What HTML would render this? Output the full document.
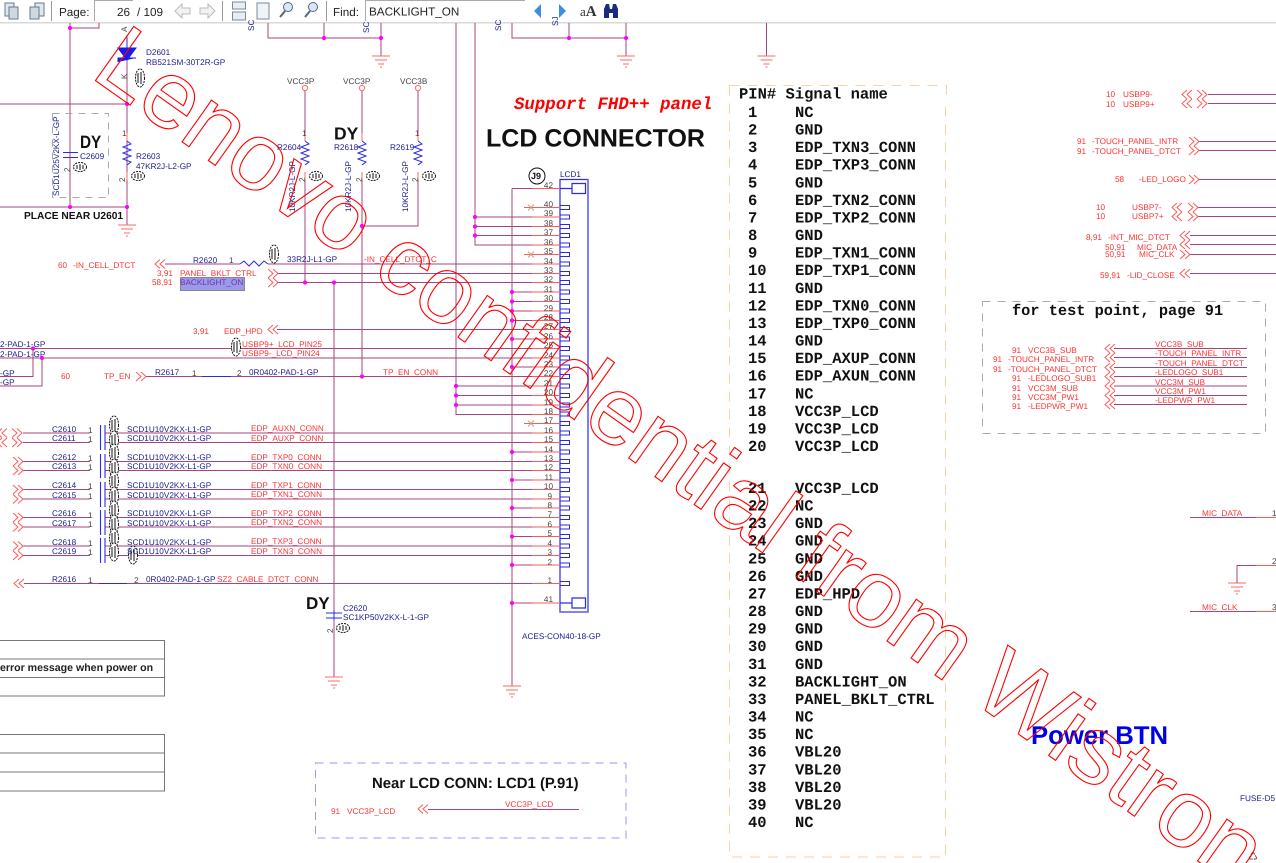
<!DOCTYPE html>
<html><head><meta charset="utf-8"><title>LCD Connector schematic</title>
<style>
html,body{margin:0;padding:0;background:#fff;width:1276px;height:863px;overflow:hidden}
svg{display:block;position:absolute;left:0;top:0}
text{font-family:"Liberation Sans",sans-serif;font-size:8.2px;text-rendering:geometricPrecision}
.b{fill:#1c1c90}.r{fill:#f33}.n{fill:#444}
.w{fill:none;stroke:#a5457d;stroke-width:1}
.t{fill:none;stroke:#ff5a5a;stroke-width:1}
.bl{fill:none;stroke:#2a2ae8;stroke-width:1.2}
.m,.m text{font-family:"Liberation Mono",monospace;font-weight:bold;font-size:15.5px;fill:#111}
text.tb{font-size:11.7px;fill:#222}
text.wm{font-family:"Liberation Sans",sans-serif;font-size:96.5px;fill:none;stroke:#f00;stroke-width:1.1}
.c{font-weight:bold;fill:#111}
</style></head><body>
<svg width="1276" height="863" viewBox="0 0 1276 863" xmlns="http://www.w3.org/2000/svg">
<defs>
<path id="cl" d="M5 -4.5L0 0L5 4.5M10 -4.5L5 0L10 4.5" fill="none" stroke="#ff5a5a"/>
<path id="cr" d="M0 -4.5L5 0L0 4.5M5 -4.5L10 0L5 4.5" fill="none" stroke="#ff5a5a"/>
<path id="g" d="M-9 0H9M-6 4H6M-3 8H3M-1 11H1" fill="none" stroke="#ff6a6a"/>
<circle id="j" r="2.1" fill="#f0f"/>
<g id="s"><ellipse rx="6.5" ry="4.5" fill="#fff" stroke="#111" stroke-dasharray="2 1"/><path d="M-3 -2V2M0 -3V3M3 -2V2" stroke="#111" fill="none"/></g>
<g id="v"><ellipse rx="4.5" ry="9" fill="#fff" stroke="#111" stroke-dasharray="2 1"/><path d="M-2 -5V5M1 -6V6" stroke="#111" fill="none"/></g>
<path id="z" d="M0 0l4 3l-8 3l8 3l-8 3l8 3l-8 3l8 3l-4 3" fill="none" stroke="#2a2ae8"/>
</defs>

<!-- toolbar -->
<rect x="0" y="22" width="1276" height="1.5" fill="#d9d9d9"/>
<g fill="#dfe8f0" stroke="#6a7a8a">
<rect x="5" y="3" width="9" height="13"/><rect x="9" y="7" width="9" height="12" fill="#cfd8e0"/>
<rect x="35" y="3" width="9" height="13"/><rect x="30" y="7" width="9" height="12" fill="#cfd8e0"/>
</g>
<path d="M51.5 1V21M222.5 1V21M326.5 1V21" stroke="#999"/>
<text class="tb" x="59" y="16">Page:</text>
<path d="M94.5 21V0.5H133" fill="none" stroke="#aaa"/>
<text class="tb" x="117" y="16">26</text><text class="tb" x="137" y="16">/ 109</text>
<path d="M175 11l7-7v4h8v6h-8v4zM215 11l-7-7v4h-8v6h8v4z" fill="#f2f2f2" stroke="#bbb"/>
<path d="M232.5 2h13v7h-13zM232.5 12h13v8h-13z" fill="#e8eef4" stroke="#7a8a9a"/>
<rect x="257" y="3" width="12" height="16" fill="#eef4f8" stroke="#7a8a9a"/>
<circle cx="288" cy="7" r="4.5" fill="#d8e8f8" stroke="#567"/><path d="M285 11l-5 6" stroke="#567" stroke-width="2"/>
<circle cx="313" cy="7" r="4.5" fill="#d8e8f8" stroke="#567"/><path d="M310 11l-5 6" stroke="#567" stroke-width="2"/>
<text class="tb" x="333" y="16">Find:</text>
<path d="M365.5 21V0.5H525" fill="none" stroke="#aaa"/>
<text class="tb" x="369" y="15.5">BACKLIGHT_ON</text>
<path d="M534 11l7-7v14z" fill="#3d8ee0"/><path d="M566 11l-7-7v14z" fill="#3d8ee0"/>
<text x="580" y="16" style="font-size:13px;font-family:'Liberation Serif',serif;fill:#333">a<tspan style="font-weight:bold;font-size:15px">A</tspan></text>
<path d="M604 18v-9l2-5h3l1 5h2l1-5h3l2 5v9h-5v-5h-4v5z" fill="#1a2a80"/>

<!-- top-left wires -->
<g class="w">
<path d="M70 23V207M70 28H99V23M0 104H127M0 207H127M127 35V225"/>
<path d="M268 23V38H381M324 23V38M381 23V56"/>
<path d="M512 23V38H626M569 23V38M626 23V56M766.5 23V56"/>
<path d="M456 23V414.5H532M475 23V245H532"/>
<path d="M305 91V133M305 173V283M362 91V133M362 173V376.5M418 91V133M418 173V226H362"/>
<path d="M334 283V612M334 620V677"/>
<path d="M512 188.5V686"/>
</g>
<g fill="none" stroke="#ff6a6a"><circle cx="305" cy="88" r="2.6"/><circle cx="362" cy="88" r="2.6"/><circle cx="418" cy="88" r="2.6"/>
<path d="M305 133V141M305 172V180M362 133V141M362 172V180M418 133V141M418 172V180M127 133V141M127 172V180"/></g>
<use href="#z" x="127" y="141"/><use href="#z" x="305" y="141"/><use href="#z" x="362" y="141"/><use href="#z" x="418" y="141"/>
<path d="M127 38V60" stroke="#2a2ae8"/><path d="M118 48H136L127 60ZM118 62V58H136" fill="#1a1af0" stroke="#1a1af0"/>
<path d="M63 152.5H78M63 157.5H78" stroke="#2a2ae8"/>
<path d="M326 613H342M326 618H342M334 610V620" stroke="#2a2ae8" fill="none"/>
<rect x="52.5" y="113.5" width="56" height="84" fill="none" stroke="#aaa" stroke-dasharray="7 6"/>
<use href="#g" x="127" y="225"/><use href="#g" x="381" y="56"/><use href="#g" x="626" y="56"/><use href="#g" x="766.5" y="56"/><use href="#g" x="334" y="677"/><use href="#g" x="512" y="686"/><use href="#g" x="1237" y="583"/>

<text class="b" transform="translate(254,31) rotate(-90)">SC</text>
<text class="b" transform="translate(369,33) rotate(-90)">SC</text>
<text class="b" transform="translate(501,31) rotate(-90)">SC</text>
<text class="b" transform="translate(558,26) rotate(-90)">SJ</text>
<text class="n" transform="translate(127,32) rotate(-90)">A</text>
<text class="n" transform="translate(127,79) rotate(-90)">K</text>
<text class="b" x="146" y="55">D2601</text><text class="b" x="146" y="65">RB521SM-30T2R-GP</text>
<use href="#v" x="140" y="78"/>
<text class="n" x="122" y="136">1</text><text class="n" transform="translate(125,182) rotate(-90)">2</text>
<text class="b" x="136" y="159">R2603</text><text class="b" x="136" y="169">47KR2J-L2-GP</text>
<use href="#s" x="138" y="176"/>
<text class="b" transform="translate(59,196) rotate(-90)">SCD1U25V2KX-L-GP</text>
<text class="b" x="80" y="159">C2609</text><use href="#s" x="80" y="167"/>
<text class="n" transform="translate(70,172) rotate(-90)">2</text>
<text transform="translate(80,148) scale(.85,1)" style="font-size:18px;font-weight:bold;fill:#111">DY</text>
<text x="24" y="219" style="font-size:10.2px;font-weight:bold;fill:#111">PLACE NEAR U2601</text>

<text class="n" x="287" y="84">VCC3P</text><text class="n" x="343" y="84">VCC3P</text><text class="n" x="400" y="84">VCC3B</text>
<text class="n" x="302" y="136">1</text><text class="n" x="415" y="136">1</text>
<text class="b" x="277" y="150">R2604</text><text class="b" x="334" y="150">R2618</text><text class="b" x="390" y="150">R2619</text>
<text class="b" transform="translate(295,212) rotate(-90)">10KR2J-L-GP</text>
<text class="b" transform="translate(351,212) rotate(-90)">10KR2J-L-GP</text>
<text class="b" transform="translate(408,212) rotate(-90)">10KR2J-L-GP</text>
<text class="n" transform="translate(305,182) rotate(-90)">2</text><text class="n" transform="translate(362,182) rotate(-90)">2</text><text class="n" transform="translate(418,182) rotate(-90)">2</text>
<use href="#s" x="316" y="176"/><use href="#s" x="373" y="176"/><use href="#s" x="429" y="176"/>
<text transform="translate(334,139.5)" style="font-size:17.5px;font-weight:bold;fill:#111">DY</text>

<text x="514" y="109" style="font-family:'Liberation Mono',monospace;font-weight:bold;font-style:italic;font-size:17.4px;fill:#f00">Support FHD++ panel</text>
<text x="486" y="146.5" style="font-size:25px;font-weight:bold;fill:#111">LCD CONNECTOR</text>

<!-- connector -->
<circle cx="537" cy="176" r="8" fill="#fff" stroke="#111"/><text x="531" y="179" style="font-size:9px;font-weight:bold;fill:#111">J9</text>
<text x="560" y="177" fill="#1c1c90">LCD1</text>
<path d="M560 179.5V612H588V179.5Z" fill="none" stroke="#2a2ae8" stroke-width="1.2"/>
<path d="M588 179V612M560 612H588" stroke="#6a6af5" stroke-width="1.6"/>
<path class="bl" d="M572 183.5h13.5v10h-13.5zM572 598h13.5v10h-13.5zM560 188.5h12M560 603h12"/>
<g class="bl" style="stroke-width:1">
<path d="M560 205.5h9.5v4h-9.5zM560 215h9.5v4h-9.5zM560 224.5h9.5v4h-9.5zM560 233.5h9.5v4h-9.5zM560 243h9.5v4h-9.5zM560 252.5h9.5v4h-9.5zM560 262h9.5v4h-9.5zM560 271.5h9.5v4h-9.5zM560 280.5h9.5v4h-9.5zM560 290h9.5v4h-9.5zM560 299.5h9.5v4h-9.5zM560 309h9.5v4h-9.5zM560 318.5h9.5v4h-9.5zM560 327.5h9.5v4h-9.5zM560 337h9.5v4h-9.5zM560 346.5h9.5v4h-9.5zM560 356h9.5v4h-9.5zM560 365h9.5v4h-9.5zM560 374.5h9.5v4h-9.5zM560 384h9.5v4h-9.5zM560 393.5h9.5v4h-9.5zM560 403h9.5v4h-9.5zM560 412h9.5v4h-9.5zM560 421.5h9.5v4h-9.5zM560 431h9.5v4h-9.5zM560 440.5h9.5v4h-9.5zM560 450h9.5v4h-9.5zM560 459.5h9.5v4h-9.5zM560 468.5h9.5v4h-9.5zM560 478h9.5v4h-9.5zM560 487.5h9.5v4h-9.5zM560 497h9.5v4h-9.5zM560 506h9.5v4h-9.5zM560 515.5h9.5v4h-9.5zM560 525h9.5v4h-9.5zM560 534.5h9.5v4h-9.5zM560 544h9.5v4h-9.5zM560 553.5h9.5v4h-9.5zM560 563h9.5v4h-9.5zM560 581.5h9.5v4h-9.5z"/>
</g>
<!-- pin wires, purple part -->
<path class="w" d="M512 188.5H532M475 217H532M475 226.5H532M475 235.5H532M268 264H532M277 273.5H532M277 282.5H532M512 292H532M512 301.5H532M512 311H532M512 320.5H532M277 329.5H532M512 339H532M0 348.5H532M0 358H532M512 367H532M146 376.5H532M456 386H532M456 395.5H532M456 405H532M105 433H532M105 442.5H532M512 452H532M105 461.5H532M105 470.5H532M512 480H532M105 489.5H532M105 499H532M512 508H532M105 517.5H532M105 527H532M512 536.5H532M105 546H532M105 555.5H532M512 565H532M24 583.5H532M512 603H532"/>
<path class="w" d="M23 433H90M23 442.5H90M23 461.5H90M23 470.5H90M23 489.5H90M23 499H90M23 517.5H90M23 527H90M23 546H90M23 555.5H90"/>
<path class="t" d="M532 188.5H560M524 207.5H560M532 217H560M532 226.5H560M532 235.5H560M532 245H560M524 254.5H560M532 264H560M532 273.5H560M532 282.5H560M532 292H560M532 301.5H560M532 311H560M532 320.5H560M532 329.5H560M532 339H560M532 348.5H560M532 358H560M532 367H560M532 376.5H560M532 386H560M532 395.5H560M532 405H560M532 414.5H560M524 423.5H560M532 433H560M532 442.5H560M532 452H560M532 461.5H560M532 470.5H560M532 480H560M532 489.5H560M532 499H560M532 508H560M532 517.5H560M532 527H560M532 536.5H560M532 546H560M532 555.5H560M532 565H560M532 583.5H560M532 603H560"/>
<path d="M528 204.5l6 6m0-6l-6 6M528 251.5l6 6m0-6l-6 6M528 420.5l6 6m0-6l-6 6" stroke="#c8a080" fill="none"/>
<!-- pin numbers -->
<g class="n" text-anchor="end">
<text x="553" y="188">42</text><text x="553" y="207">40</text><text x="553" y="216">39</text><text x="553" y="226">38</text><text x="553" y="235">37</text><text x="553" y="245">36</text><text x="553" y="254">35</text><text x="553" y="264">34</text><text x="553" y="273">33</text><text x="553" y="282">32</text><text x="553" y="292">31</text><text x="553" y="301">30</text><text x="553" y="311">29</text><text x="553" y="320">28</text><text x="553" y="329">27</text><text x="553" y="339">26</text><text x="553" y="348">25</text><text x="553" y="358">24</text><text x="553" y="367">23</text><text x="553" y="376">22</text><text x="553" y="386">21</text><text x="553" y="395">20</text><text x="553" y="405">19</text><text x="553" y="414">18</text><text x="553" y="423">17</text><text x="553" y="433">16</text><text x="553" y="442">15</text><text x="553" y="452">14</text><text x="553" y="461">13</text><text x="553" y="470">12</text><text x="553" y="480">11</text><text x="553" y="489">10</text><text x="552" y="499">9</text><text x="552" y="508">8</text><text x="552" y="517">7</text><text x="552" y="527">6</text><text x="552" y="536">5</text><text x="552" y="546">4</text><text x="552" y="555">3</text><text x="552" y="565">2</text><text x="552" y="583">1</text><text x="553" y="602">41</text>
</g>
<!-- junctions -->
<g fill="#f0f">
<use href="#j" x="70" y="28"/><use href="#j" x="70" y="207"/><use href="#j" x="127" y="207"/><use href="#j" x="127" y="104"/>
<use href="#j" x="324" y="38"/><use href="#j" x="381" y="38"/><use href="#j" x="569" y="38"/><use href="#j" x="626" y="38"/>
<use href="#j" x="362" y="226"/><use href="#j" x="305" y="282.5"/><use href="#j" x="334" y="282.5"/><use href="#j" x="362" y="376.5"/>
<use href="#j" x="475" y="217"/><use href="#j" x="475" y="226.5"/><use href="#j" x="475" y="235.5"/>
<use href="#j" x="456" y="386"/><use href="#j" x="456" y="395.5"/><use href="#j" x="456" y="405"/>
<use href="#j" x="512" y="292"/><use href="#j" x="512" y="301.5"/><use href="#j" x="512" y="311"/><use href="#j" x="512" y="320.5"/><use href="#j" x="512" y="339"/><use href="#j" x="512" y="367"/>
<use href="#j" x="512" y="452"/><use href="#j" x="512" y="480"/><use href="#j" x="512" y="508"/><use href="#j" x="512" y="536.5"/><use href="#j" x="512" y="565"/><use href="#j" x="512" y="603"/>
<use href="#j" x="33" y="348.5"/><use href="#j" x="42" y="358"/>
</g>
<text class="b" x="522" y="639">ACES-CON40-18-GP</text>

<!-- R2620 / signals -->
<use href="#cl" x="155" y="264"/><path class="w" d="M165 264H240"/>
<path d="M240 264l4-3l5 5l5-5l5 5l5-5l4 3" fill="none" stroke="#2a2ae8"/>
<use href="#cr" x="268" y="273.5"/><use href="#cr" x="268" y="282.5"/>
<use href="#cl" x="268" y="329.5"/>
<text class="r" x="58" y="268">60</text><text class="r" x="73" y="268">-IN_CELL_DTCT</text>
<text class="b" x="193" y="263">R2620</text><text class="n" x="229" y="263">1</text>
<use href="#v" x="274" y="254"/>
<text class="b" x="287" y="262">33R2J-L1-GP</text>
<text class="r" x="364" y="262">-IN_CELL_DTCT_C</text>
<text class="r" x="157" y="276">3,91</text><text class="r" x="180" y="276">PANEL_BKLT_CTRL</text>
<text class="r" x="152" y="285">58,91</text>
<rect x="180.5" y="277.5" width="64" height="13" fill="#9a9aec" stroke="#888"/>
<text x="180" y="285" fill="#7a2ea0">BACKLIGHT_ON</text>
<text class="r" x="193" y="334">3,91</text><text class="r" x="224" y="334">EDP_HPD</text>
<text class="b" x="0" y="347">2-PAD-1-GP</text><text class="b" x="0" y="357">2-PAD-1-GP</text>
<text class="b" x="0" y="376">-GP</text><text class="b" x="0" y="385">-GP</text>
<path class="w" d="M33 348.5V376.5H0M42 358V386H0"/>
<use href="#v" x="236" y="347"/>
<text class="r" x="242" y="347">USBP9+_LCD_PIN25</text><text class="r" x="242" y="356">USBP9-_LCD_PIN24</text>
<text class="r" x="61" y="379">60</text><text class="r" x="104" y="379">TP_EN</text>
<use href="#cr" x="136" y="376.5"/>
<text class="b" x="155" y="375">R2617</text><text class="n" x="192" y="376">1</text>
<path d="M202 376.5H231" stroke="#fff" stroke-width="1.4"/><path d="M202 376.5H231" stroke="#2a2ae8"/>
<text class="n" x="237" y="376">2</text><text class="b" x="249" y="375">0R0402-PAD-1-GP</text>
<text class="r" x="383" y="375">TP_EN_CONN</text>

<!-- caps -->
<path d="M100.5 425V450M105 425V450M100.5 454V478M105 454V478M100.5 482V507M105 482V507M100.5 510V535M105 510V535M100.5 538V563M105 538V563" stroke="#2a2ae8" fill="none" stroke-width="1.1"/>
<use href="#cl" x="-3" y="433"/><use href="#cl" x="-3" y="442.5"/>
<use href="#cr" x="12" y="433"/><use href="#cr" x="12" y="442.5"/><use href="#cr" x="13" y="461.5"/><use href="#cr" x="13" y="470.5"/><use href="#cr" x="13" y="489.5"/><use href="#cr" x="13" y="499"/><use href="#cr" x="13" y="517.5"/><use href="#cr" x="13" y="527"/><use href="#cr" x="13" y="546"/><use href="#cr" x="13" y="555.5"/>
<use href="#cl" x="14" y="583.5"/>
<g>
<use href="#v" x="114" y="425"/><use href="#v" x="114" y="440"/><use href="#v" x="114" y="453"/><use href="#v" x="114" y="468"/><use href="#v" x="114" y="481"/><use href="#v" x="114" y="496"/><use href="#v" x="114" y="510"/><use href="#v" x="114" y="524"/><use href="#v" x="114" y="538"/><use href="#v" x="114" y="552"/><use href="#v" x="133" y="555"/>
</g>
<g class="b">
<text x="52" y="432">C2610</text><text x="52" y="441">C2611</text><text x="52" y="460">C2612</text><text x="52" y="469">C2613</text><text x="52" y="488">C2614</text><text x="52" y="498">C2615</text><text x="52" y="516">C2616</text><text x="52" y="526">C2617</text><text x="52" y="545">C2618</text><text x="52" y="554">C2619</text>
<text x="127" y="432">SCD1U10V2KX-L1-GP</text><text x="127" y="441">SCD1U10V2KX-L1-GP</text><text x="127" y="460">SCD1U10V2KX-L1-GP</text><text x="127" y="469">SCD1U10V2KX-L1-GP</text><text x="127" y="488">SCD1U10V2KX-L1-GP</text><text x="127" y="498">SCD1U10V2KX-L1-GP</text><text x="127" y="516">SCD1U10V2KX-L1-GP</text><text x="127" y="526">SCD1U10V2KX-L1-GP</text><text x="127" y="545">SCD1U10V2KX-L1-GP</text><text x="127" y="554">SCD1U10V2KX-L1-GP</text>
<text x="52" y="582">R2616</text><text x="146" y="582">0R0402-PAD-1-GP</text>
<text x="343" y="611">C2620</text><text x="343" y="620">SC1KP50V2KX-L-1-GP</text>
</g>
<g class="n">
<text x="88" y="433">1</text><text x="88" y="442">1</text><text x="88" y="461">1</text><text x="88" y="470">1</text><text x="88" y="489">1</text><text x="88" y="499">1</text><text x="88" y="518">1</text><text x="88" y="527">1</text><text x="88" y="546">1</text><text x="88" y="555">1</text>
<text x="88" y="583">1</text><text x="134" y="583">2</text>
<text transform="translate(333,633) rotate(-90)">2</text>
</g>
<path d="M99 583.5H127" stroke="#fff" stroke-width="1.4"/><path d="M99 583.5H127" stroke="#2a2ae8"/>
<use href="#s" x="343" y="628"/>
<g class="r">
<text x="251" y="431">EDP_AUXN_CONN</text><text x="251" y="441">EDP_AUXP_CONN</text><text x="251" y="460">EDP_TXP0_CONN</text><text x="251" y="469">EDP_TXN0_CONN</text><text x="251" y="488">EDP_TXP1_CONN</text><text x="251" y="497">EDP_TXN1_CONN</text><text x="251" y="516">EDP_TXP2_CONN</text><text x="251" y="525">EDP_TXN2_CONN</text><text x="251" y="544">EDP_TXP3_CONN</text><text x="251" y="554">EDP_TXN3_CONN</text>
<text x="217" y="582">SZ2_CABLE_DTCT_CONN</text>
</g>
<text x="306" y="609" style="font-size:17px;font-weight:bold;fill:#111">DY</text>

<!-- left tables -->
<g fill="none" stroke="#777" stroke-width="1">
<path d="M0 640.5H164.5V696H0M0 659H164.5M0 677.5H164.5"/>
<path d="M0 734.5H164.5V791H0M0 753H164.5M0 772H164.5"/>
</g>
<text x="0" y="671" style="font-size:10.6px;font-weight:bold;fill:#222">error message when power on</text>

<!-- near LCD -->
<rect x="315.5" y="763" width="310.5" height="75" fill="none" stroke="#9a9af0" stroke-dasharray="8 6"/>
<text x="372" y="788" style="font-size:14.9px;font-weight:bold;fill:#111">Near LCD CONN: LCD1 (P.91)</text>
<text class="r" x="331" y="814">91</text><text class="r" x="347" y="814">VCC3P_LCD</text>
<use href="#cl" x="418" y="809"/><path class="w" d="M428 809.5H579"/>
<text class="r" x="505" y="807">VCC3P_LCD</text>

<!-- pin table -->
<path d="M729.5 85.5H946.5V100" fill="none" stroke="#fbcfa8" stroke-dasharray="10 8"/>
<path d="M729.5 85.5V857H945.5V100" fill="none" stroke="#fbcfa8" stroke-dasharray="10 8"/>
<text class="m" x="739" y="98.5">PIN# Signal name</text>
<g class="m" transform="translate(0,-1)">
<text x="748" y="118">1</text><text x="795" y="118">NC</text>
<text x="748" y="135.6">2</text><text x="795" y="135.6">GND</text>
<text x="748" y="153.2">3</text><text x="795" y="153.2">EDP_TXN3_CONN</text>
<text x="748" y="170.7">4</text><text x="795" y="170.7">EDP_TXP3_CONN</text>
<text x="748" y="188.3">5</text><text x="795" y="188.3">GND</text>
<text x="748" y="205.9">6</text><text x="795" y="205.9">EDP_TXN2_CONN</text>
<text x="748" y="223.5">7</text><text x="795" y="223.5">EDP_TXP2_CONN</text>
<text x="748" y="241">8</text><text x="795" y="241">GND</text>
<text x="748" y="258.6">9</text><text x="795" y="258.6">EDP_TXN1_CONN</text>
<text x="748" y="276.2">10</text><text x="795" y="276.2">EDP_TXP1_CONN</text>
<text x="748" y="293.8">11</text><text x="795" y="293.8">GND</text>
<text x="748" y="311.4">12</text><text x="795" y="311.4">EDP_TXN0_CONN</text>
<text x="748" y="329">13</text><text x="795" y="329">EDP_TXP0_CONN</text>
<text x="748" y="346.5">14</text><text x="795" y="346.5">GND</text>
<text x="748" y="364.1">15</text><text x="795" y="364.1">EDP_AXUP_CONN</text>
<text x="748" y="381.7">16</text><text x="795" y="381.7">EDP_AXUN_CONN</text>
<text x="748" y="399.3">17</text><text x="795" y="399.3">NC</text>
<text x="748" y="416.9">18</text><text x="795" y="416.9">VCC3P_LCD</text>
<text x="748" y="434.4">19</text><text x="795" y="434.4">VCC3P_LCD</text>
<text x="748" y="452">20</text><text x="795" y="452">VCC3P_LCD</text>
<text x="748" y="494">21</text><text x="795" y="494">VCC3P_LCD</text>
<text x="748" y="511.6">22</text><text x="795" y="511.6">NC</text>
<text x="748" y="529.2">23</text><text x="795" y="529.2">GND</text>
<text x="748" y="546.7">24</text><text x="795" y="546.7">GND</text>
<text x="748" y="564.3">25</text><text x="795" y="564.3">GND</text>
<text x="748" y="581.9">26</text><text x="795" y="581.9">GND</text>
<text x="748" y="599.5">27</text><text x="795" y="599.5">EDP_HPD</text>
<text x="748" y="617">28</text><text x="795" y="617">GND</text>
<text x="748" y="634.6">29</text><text x="795" y="634.6">GND</text>
<text x="748" y="652.2">30</text><text x="795" y="652.2">GND</text>
<text x="748" y="669.8">31</text><text x="795" y="669.8">GND</text>
<text x="748" y="687.4">32</text><text x="795" y="687.4">BACKLIGHT_ON</text>
<text x="748" y="705">33</text><text x="795" y="705">PANEL_BKLT_CTRL</text>
<text x="748" y="722.5">34</text><text x="795" y="722.5">NC</text>
<text x="748" y="740.1">35</text><text x="795" y="740.1">NC</text>
<text x="748" y="757.7">36</text><text x="795" y="757.7">VBL20</text>
<text x="748" y="775.3">37</text><text x="795" y="775.3">VBL20</text>
<text x="748" y="792.9">38</text><text x="795" y="792.9">VBL20</text>
<text x="748" y="810.4">39</text><text x="795" y="810.4">VBL20</text>
<text x="748" y="828">40</text><text x="795" y="828">NC</text>
</g>

<!-- right side signals -->
<path class="w" d="M1208 94.5H1276M1208 103.5H1276M1199 141.5H1276M1199 150.5H1276M1199 179.5H1276M1198 207.5H1276M1198 216.5H1276M1190 235.5H1276M1190 244.5H1276M1190 254.5H1276M1190 273.5H1276"/>
<use href="#cl" x="1182" y="94.5"/><use href="#cr" x="1197" y="94.5"/><use href="#cl" x="1182" y="103.5"/><use href="#cr" x="1197" y="103.5"/>
<use href="#cr" x="1189" y="141.5"/><use href="#cr" x="1189" y="150.5"/><use href="#cr" x="1189" y="179.5"/>
<use href="#cl" x="1172" y="207.5"/><use href="#cr" x="1188" y="207.5"/><use href="#cl" x="1172" y="216.5"/><use href="#cr" x="1188" y="216.5"/>
<use href="#cl" x="1180" y="235.5"/><use href="#cl" x="1180" y="244.5"/><use href="#cr" x="1180" y="254.5"/><use href="#cl" x="1180" y="273.5"/>
<g class="r">
<text x="1106" y="97">10</text><text x="1123" y="97">USBP9-</text><text x="1106" y="107">10</text><text x="1123" y="107">USBP9+</text>
<text x="1077" y="144">91</text><text x="1092" y="144">-TOUCH_PANEL_INTR</text><text x="1077" y="154">91</text><text x="1092" y="154">-TOUCH_PANEL_DTCT</text>
<text x="1115" y="182">58</text><text x="1139" y="182">-LED_LOGO</text>
<text x="1096" y="210">10</text><text x="1132" y="210">USBP7-</text><text x="1096" y="219">10</text><text x="1132" y="219">USBP7+</text>
<text x="1086" y="240">8,91</text><text x="1108" y="240">-INT_MIC_DTCT</text>
<text x="1105" y="250">50,91</text><text x="1137" y="250">MIC_DATA</text>
<text x="1105" y="257">50,91</text><text x="1139" y="257">MIC_CLK</text>
<text x="1100" y="278">59,91</text><text x="1127" y="278">-LID_CLOSE</text>
</g>

<!-- test point -->
<rect x="982.5" y="301.5" width="283" height="132" fill="none" stroke="#aaa" stroke-dasharray="8 7"/>
<text class="m" x="1012" y="315" style="font-size:15.3px">for test point, page 91</text>
<path class="w" d="M1114 348.5H1247M1114 357.5H1247M1114 367.5H1247M1114 376.5H1247M1114 386H1247M1114 395.5H1247M1114 404.5H1247"/>
<use href="#cl" x="1105" y="348.5"/><use href="#cl" x="1105" y="357.5"/><use href="#cl" x="1105" y="367.5"/><use href="#cl" x="1105" y="376.5"/><use href="#cl" x="1105" y="386"/><use href="#cl" x="1105" y="395.5"/><use href="#cl" x="1105" y="404.5"/>
<g class="r">
<text x="1012" y="353">91</text><text x="1028" y="353">VCC3B_SUB</text>
<text x="993" y="362">91</text><text x="1008" y="362">-TOUCH_PANEL_INTR</text>
<text x="993" y="372">91</text><text x="1008" y="372">-TOUCH_PANEL_DTCT</text>
<text x="1012" y="381">91</text><text x="1028" y="381">-LEDLOGO_SUB1</text>
<text x="1012" y="391">91</text><text x="1028" y="391">VCC3M_SUB</text>
<text x="1012" y="400">91</text><text x="1028" y="400">VCC3M_PW1</text>
<text x="1012" y="409">91</text><text x="1028" y="409">-LEDPWR_PW1</text>
<text x="1155" y="347">VCC3B_SUB</text><text x="1155" y="356">-TOUCH_PANEL_INTR</text><text x="1155" y="366">-TOUCH_PANEL_DTCT</text><text x="1155" y="375">-LEDLOGO_SUB1</text><text x="1155" y="385">VCC3M_SUB</text><text x="1155" y="394">VCC3M_PW1</text><text x="1155" y="403">-LEDPWR_PW1</text>
<text x="1202" y="516">MIC_DATA</text><text x="1202" y="610">MIC_CLK</text>
</g>
<path class="w" d="M1190 517.5H1256M1190 611.5H1256M1256 565.5H1237V583"/>
<path class="t" d="M1256 517.5H1276M1256 565.5H1276M1256 611.5H1276"/>
<text class="n" x="1272" y="516">1</text><text class="n" x="1272" y="564">2</text><text class="n" x="1272" y="610">3</text>
<text class="b" x="1240" y="801">FUSE-D5</text>
<text x="1248" y="860" style="font-size:11px;font-family:'DejaVu Sans',sans-serif;fill:#444">&#9850;</text>

<text x="1031" y="744" style="font-size:25.7px;font-weight:bold;fill:#0000e8">Power BTN</text>

<!-- watermark -->
<text class="wm" transform="translate(89,76) rotate(35.3)">Lenovo confidential from Wistron</text>
</svg>
</body></html>
